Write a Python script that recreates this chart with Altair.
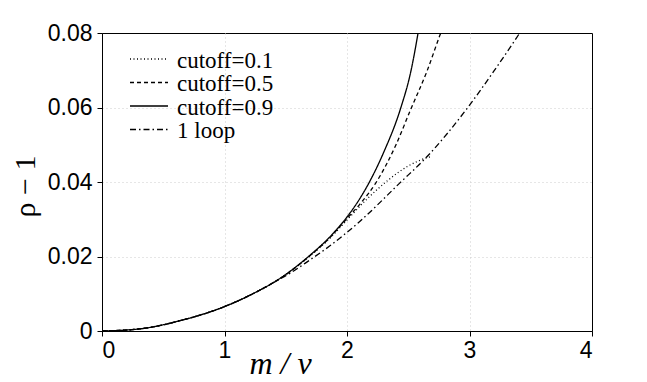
import altair as alt
import pandas as pd

# Values
series_names = ["cutoff=0.1", "cutoff=0.5", "cutoff=0.9", "1 loop"]

# part shared by every curve
x_common = [0.0, 0.3, 0.66, 1.0, 1.29, 1.42]
y_common = [0.0, 0.00054, 0.00296, 0.00655, 0.0110, 0.0134]

x_c01 = [1.55, 1.7, 1.858, 2.0, 2.15, 2.25, 2.336, 2.42, 2.5, 2.58, 2.65, 2.69]
y_c01 = [0.0163, 0.0202, 0.0248, 0.0298, 0.0350, 0.0381, 0.0405, 0.0426, 0.0443, 0.0456, 0.0465, 0.0468]

x_c05 = [1.55, 1.7, 1.858, 2.0, 2.104, 2.24, 2.4, 2.52, 2.65, 2.765, 2.8]
y_c05 = [0.0163, 0.0203, 0.0250, 0.0302, 0.0340, 0.0400, 0.0500, 0.0595, 0.0695, 0.0800, 0.0830]

x_c09 = [1.55, 1.7, 1.858, 2.0, 2.104, 2.18, 2.3, 2.44, 2.52, 2.58, 2.6]
y_c09 = [0.0164, 0.0204, 0.0252, 0.0306, 0.0355, 0.0398, 0.0480, 0.0600, 0.0695, 0.0800, 0.0840]

x_loop = [1.55, 1.694, 1.858, 2.104, 2.43, 2.65, 2.986, 3.2, 3.41, 3.45]
y_loop = [0.0158, 0.0190, 0.0228, 0.0294, 0.0397, 0.0467, 0.0600, 0.0698, 0.0800, 0.0820]

x_ticks = [0, 1, 2, 3, 4]
y_ticks = [0, 0.02, 0.04, 0.06, 0.08]

rows = []
for name, xs, ys in [
    ("cutoff=0.1", x_c01, y_c01),
    ("cutoff=0.5", x_c05, y_c05),
    ("cutoff=0.9", x_c09, y_c09),
    ("1 loop", x_loop, y_loop),
]:
    for xv, yv in zip(x_common + xs, y_common + ys):
        rows.append({"x": xv, "y": yv, "series": name})
df = pd.DataFrame(rows)

legend_df = pd.DataFrame({"series": series_names, "row": list(range(len(series_names)))})

dash_range = [[1, 2.5], [4, 3], [1, 0], [6, 3, 1.5, 3]]
dash_scale = alt.Scale(domain=series_names, range=dash_range)

lines = (
    alt.Chart(df)
    .mark_line(color="black", strokeWidth=1.3, clip=True, interpolate="monotone")
    .encode(
        x=alt.X(
            "x:Q",
            scale=alt.Scale(domain=[0, 4], nice=False),
            axis=alt.Axis(
                values=x_ticks,
                gridOpacity=alt.condition(
                    "datum.value == 0 || datum.value == 4", alt.value(0), alt.value(1)
                ),
                title="m / v",
                titleFont="Liberation Serif",
                titleFontStyle="italic",
                titleFontWeight="normal",
                titleFontSize=32,
                titleX=178,
                titleY=42,
                titleBaseline="alphabetic",
                labelFontSize=23,
                labelFont="Liberation Sans",
                labelPadding=3,
            ),
        ),
        y=alt.Y(
            "y:Q",
            scale=alt.Scale(domain=[0, 0.08], nice=False),
            axis=alt.Axis(
                values=y_ticks,
                gridOpacity=alt.condition(
                    "datum.value == 0 || datum.value == 0.08", alt.value(0), alt.value(1)
                ),
                labelExpr="datum.value == 0 ? '0' : format(datum.value, '.2f')",
                title="ρ − 1",
                titleFont="Liberation Serif",
                titleFontWeight="normal",
                titleFontSize=30,
                titleX=-77,
                titleY=153,
                titleAngle=-90,
                titleBaseline="middle",
                labelFontSize=23,
                labelFont="Liberation Sans",
                labelPadding=5,
            ),
        ),
        strokeDash=alt.StrokeDash("series:N", scale=dash_scale, legend=None),
        detail="series:N",
    )
)

legend_base = alt.Chart(legend_df).transform_calculate(ly="26 + datum.row * 23.5")
legend_y = alt.Y("ly:Q", scale=alt.Scale(domain=[0, 298], range=[0, 298]), axis=None)

legend_lines = legend_base.mark_rule(color="black", strokeWidth=1.3).encode(
    x=alt.value(28),
    x2=alt.value(66),
    y=legend_y,
    strokeDash=alt.StrokeDash("series:N", scale=dash_scale, legend=None),
)

legend_text = legend_base.mark_text(
    align="left",
    baseline="alphabetic",
    dy=8.5,
    font="Liberation Serif",
    fontSize=23,
    color="black",
).encode(x=alt.value(75), y=legend_y, text="series:N")

chart = (
    alt.layer(lines, legend_lines, legend_text)
    .resolve_scale(y="independent")
    .properties(
        width=490,
        height=298,
        autosize=alt.AutoSizeParams(type="none"),
        padding={"left": 94, "top": 25, "right": 30, "bottom": 51},
    )
    .configure_view(stroke="black", strokeWidth=1)
    .configure_axis(
        domainColor="black",
        tickColor="black",
        tickSize=5,
        labelColor="black",
        titleColor="black",
        gridColor="#cccccc",
        gridDash=[1, 3],
        gridWidth=1,
    )
)

chart.save("out.html", embed_options={"renderer": "svg", "actions": False})
